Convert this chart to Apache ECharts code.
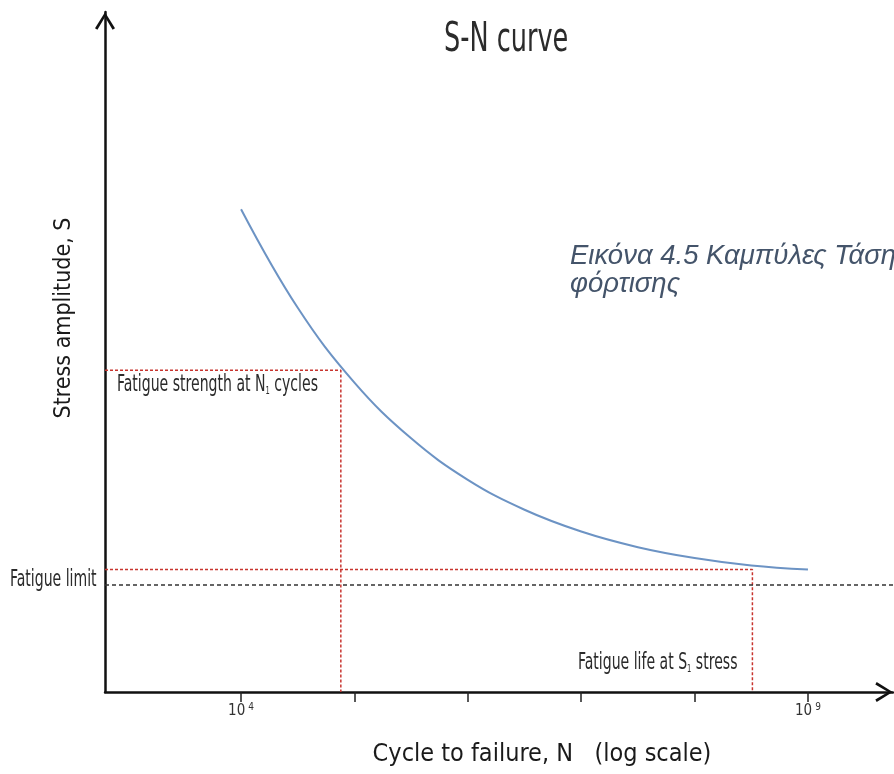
<!DOCTYPE html>
<html>
<head>
<meta charset="utf-8">
<script src="https://cdn.jsdelivr.net/npm/echarts@6/dist/echarts.min.js"></script>
<style>html,body{margin:0;padding:0;background:#fff}#c{width:894px;height:774px}</style>
</head>
<body>
<div id="c"></div>
<script>
// log10(N) positions along the curve and stress amplitude (arbitrary units)
var curveLogN = [4.0, 4.5, 5.0, 5.5, 6.0, 6.5, 7.0, 7.5, 8.0, 8.5, 9.0];
var curveS    = [71.0, 56.5, 45.5, 37.3, 31.2, 26.8, 23.6, 21.3, 19.7, 18.6, 18.0];
var tickLogN  = [4, 5, 6, 7, 8, 9];
var labelLogN = [4, 9];
var fatigueLimitS = 15.8;
var n1LogN = 4.88, n1S = 47.3;   // fatigue strength at N1
var s1LogN = 8.51, s1S = 18.0;   // fatigue life at S1
var xMin = 2.8, xMax = 9.75, yMin = 0, yMax = 100;

var condensed = "'DejaVu Sans Condensed','Liberation Sans Narrow','DejaVu Sans',sans-serif";
var chevron = 'path://M0,16 L10,0 L20,16 L17.6,17.4 L10,4.6 L2.4,17.4 Z';

function condText(txt, x, y, size, sx, rich) {
  var st = {text: txt, fontFamily: condensed, fontSize: size, fontWeight: 'normal', fill: '#2b2b2b'};
  if (rich) st.rich = rich;
  return {type: 'text', x: x, y: y, scaleX: sx, scaleY: 1, style: st, z: 100, silent: true};
}
var subRich = {
  t: {fontFamily: condensed, fontSize: 23, fontWeight: 'normal', color: '#2b2b2b'},
  s: {fontFamily: condensed, fontSize: 11, fontWeight: 'normal', color: '#2b2b2b', verticalAlign: 'bottom', padding: [11, 0, 0, 0]}
};

var chart = echarts.init(document.getElementById('c'), null, {renderer: 'canvas'});
chart.setOption({
  animation: false,
  backgroundColor: '#fff',
  title: [
    {text: 'Εικόνα 4.5 Καμπύλες Τάσης - Αριθμού κύκλων\nφόρτισης', left: 565, top: 237,
     textStyle: {fontFamily: "'Liberation Sans',Arial,sans-serif", fontStyle: 'italic', fontSize: 27.5,
                 fontWeight: 'normal', color: '#44546A', lineHeight: 28}}
  ],
  graphic: [
    condText('S-N curve', 444, 21, 40, 0.71),
    condText('Fatigue limit', 10, 569, 23, 0.68),
    condText('{t|Fatigue strength at N}{s|1}{t| cycles}', 117, 374, 23, 0.68, subRich),
    condText('{t|Fatigue life at S}{s|1}{t| stress}', 578, 652, 23, 0.68, subRich)
  ],
  grid: {left: 105, right: 1, top: 12, bottom: 82, outerBoundsMode: 'none', containLabel: false},
  xAxis: {
    type: 'value', min: xMin, max: xMax,
    name: 'Cycle to failure, N   (log scale)', nameLocation: 'middle', nameGap: 50,
    nameTextStyle: {fontFamily: condensed, fontSize: 25, color: '#1a1a1a', padding: [0, 0, 0, 86]},
    axisLine: {show: true, lineStyle: {color: '#111', width: 2.5},
               symbol: ['none', chevron], symbolSize: [20, 18], symbolOffset: [0, -9]},
    axisTick: {show: true, customValues: tickLogN, length: 10, lineStyle: {color: '#222', width: 1.5}},
    axisLabel: {show: true, customValues: labelLogN, margin: 10,
      formatter: function (v) { return '{b|10}{p|' + v + '}'; },
      rich: {b: {fontFamily: condensed, fontSize: 15, color: '#333'},
             p: {fontFamily: condensed, fontSize: 10, color: '#333', verticalAlign: 'top', padding: [0, 0, 9, 3]}}},
    splitLine: {show: false}
  },
  yAxis: {
    type: 'value', min: yMin, max: yMax,
    name: 'Stress amplitude, S', nameLocation: 'middle', nameGap: 29, nameRotate: 90,
    nameTextStyle: {fontFamily: condensed, fontSize: 23, color: '#1a1a1a', padding: [0, 0, 0, 68]},
    axisLine: {show: true, lineStyle: {color: '#111', width: 2.5},
               symbol: ['none', chevron], symbolSize: [20, 18], symbolOffset: [0, -9]},
    axisTick: {show: false}, axisLabel: {show: false}, splitLine: {show: false}
  },
  series: [
    {type: 'line', name: 'S-N', smooth: 0.4, showSymbol: false, symbol: 'none',
     data: curveLogN.map(function (x, i) { return [x, curveS[i]]; }),
     lineStyle: {color: '#6C93C4', width: 2}, z: 5,
     markLine: {silent: true, symbol: 'none', label: {show: false},
       lineStyle: {color: '#333', type: [4, 3], width: 1.6},
       data: [[{coord: [xMin, fatigueLimitS]}, {x: 894, yAxis: fatigueLimitS}]]}},
    {type: 'line', name: 'N1', showSymbol: false, symbol: 'none',
     data: [[xMin, n1S], [n1LogN, n1S], [n1LogN, yMin]],
     lineStyle: {color: '#C8352F', type: [3, 2], width: 1.5}},
    {type: 'line', name: 'S1', showSymbol: false, symbol: 'none',
     data: [[xMin, s1S], [s1LogN, s1S], [s1LogN, yMin]],
     lineStyle: {color: '#C8352F', type: [3, 2], width: 1.5}}
  ]
});
</script>
</body>
</html>
